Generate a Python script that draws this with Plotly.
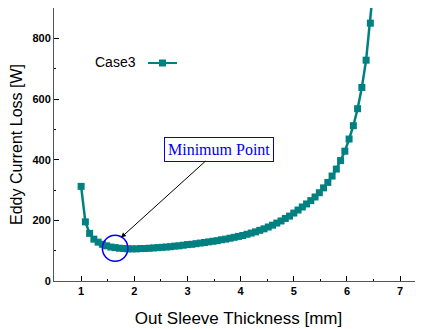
import plotly.graph_objects as go

thickness_mm = [1.00, 1.08, 1.16, 1.24, 1.32, 1.40, 1.48, 1.56, 1.64, 1.72,
                1.80, 1.88, 1.96, 2.04, 2.12, 2.20, 2.28, 2.36, 2.44, 2.52,
                2.60, 2.68, 2.76, 2.84, 2.92, 3.00, 3.08, 3.16, 3.24, 3.32,
                3.40, 3.48, 3.56, 3.64, 3.72, 3.80, 3.88, 3.96, 4.04, 4.12,
                4.20, 4.28, 4.36, 4.44, 4.52, 4.60, 4.68, 4.76, 4.84, 4.92,
                5.00, 5.08, 5.16, 5.24, 5.32, 5.40, 5.48, 5.56, 5.64, 5.72,
                5.80, 5.88, 5.96, 6.04, 6.12, 6.20, 6.28, 6.36, 6.44, 6.52]
eddy_loss_w = [312, 195, 157, 138, 128, 121, 116, 112, 110, 108,
               107, 106, 106, 106, 107, 107, 108, 109, 110, 111,
               112, 113, 115, 116, 118, 120, 121, 123, 125, 127,
               129, 131, 133, 136, 138, 141, 144, 147, 150, 154,
               158, 162, 167, 172, 178, 184, 191, 198, 206, 214,
               224, 234, 244, 254, 265, 277, 291, 307, 325, 346,
               369, 397, 428, 468, 512, 568, 638, 728, 850, 1010]
series_name = "Case3"
x_ticks = [1, 2, 3, 4, 5, 6, 7]
y_ticks = [0, 200, 400, 600, 800]

teal = "#008080"
fig = go.Figure()
fig.add_trace(go.Scatter(
    x=thickness_mm, y=eddy_loss_w, mode="lines+markers", name=series_name,
    line=dict(color=teal, width=2.5),
    marker=dict(symbol="square", size=7, color=teal),
    showlegend=False, cliponaxis=True))

axis_font = dict(family="Liberation Sans, Arial", size=11, color="black", weight="bold")
fig.update_xaxes(range=[0.49, 7.43], tickvals=x_ticks, ticks="inside", ticklen=5,
                 tickcolor="black", showline=True, linecolor="#555", linewidth=1,
                 mirror=True, showgrid=False, zeroline=False, tickfont=axis_font,
                 automargin=False,
                 minor=dict(dtick=0.5, ticks="inside", ticklen=2, tickcolor="black"),
                 title=dict(text="Out Sleeve Thickness [mm]", standoff=15,
                            font=dict(family="Liberation Sans, Arial", size=17, color="black")))
fig.update_yaxes(range=[0, 900], tickvals=y_ticks, ticks="inside", ticklen=5,
                 tickcolor="black", showline=True, linecolor="#555", linewidth=1,
                 mirror=False, showgrid=False, zeroline=False, tickfont=axis_font,
                 automargin=False,
                 minor=dict(dtick=100, ticks="inside", ticklen=2, tickcolor="black"),
                 title=dict(text="Eddy Current Loss [W]", standoff=8,
                            font=dict(family="Liberation Sans, Arial", size=16, color="black")))

# legend-like label (plot area: 369 x 273 px)
fig.add_annotation(xref="paper", yref="paper", x=(115 - 54) / 369, y=(281 - 62) / 273,
                   xanchor="center", yanchor="middle",
                   text=series_name, showarrow=False,
                   font=dict(family="Liberation Sans, Arial", size=14, color="black"))
fig.add_shape(type="line", xref="paper", yref="paper",
              x0=(148 - 54) / 369, x1=(177 - 54) / 369,
              y0=(281 - 63) / 273, y1=(281 - 63) / 273,
              line=dict(color=teal, width=2))
fig.add_shape(type="rect", xref="paper", yref="paper",
              x0=(159 - 54) / 369, x1=(166 - 54) / 369,
              y0=(281 - 66.5) / 273, y1=(281 - 59.5) / 273,
              fillcolor=teal, line=dict(width=0))

# minimum point annotation
fig.add_annotation(x=1.75, y=143, xref="x", yref="y", ax=3.59, ay=435,
                   axref="x", ayref="y", text="Minimum Point", showarrow=True,
                   arrowhead=2, arrowsize=1, arrowwidth=1, arrowcolor="black",
                   font=dict(family="Liberation Serif, Times New Roman", size=16, color="#0000ee"),
                   bordercolor="#0000ee", borderwidth=1, borderpad=3, bgcolor="white")
fig.add_shape(type="circle", xref="x", yref="y", x0=1.40, x1=1.88, y0=65, y1=151,
              line=dict(color="#0000ee", width=1.5))

# page body has an 8px margin: figure is shrunk so the plot lands where the reference's does
fig.update_layout(width=415, height=321, margin=dict(l=46, r=0, t=0, b=48),
                  plot_bgcolor="white", paper_bgcolor="white")
fig.write_html("out.html")
